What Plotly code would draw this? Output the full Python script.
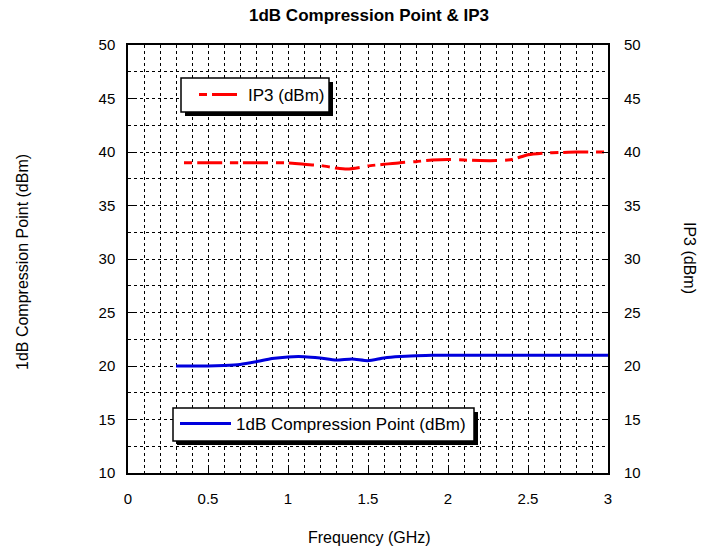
import plotly.graph_objects as go

# ---- data ----
freq_p1 = [0.3, 0.4, 0.5, 0.6, 0.7, 0.8, 0.9, 1.0, 1.1, 1.2, 1.3, 1.4, 1.5, 1.6, 1.7, 1.8,
           1.9, 2.0, 2.2, 2.4, 2.6, 2.8, 3.0]
p1db = [20.0, 20.0, 20.0, 20.05, 20.15, 20.4, 20.7, 20.85, 20.87, 20.75, 20.55, 20.65, 20.5,
        20.75, 20.88, 20.95, 21.0, 21.0, 21.0, 21.0, 21.0, 21.0, 21.0]

freq_ip3 = [0.35, 0.5, 0.6, 0.7, 0.8, 0.9, 1.0, 1.1, 1.2, 1.3, 1.37, 1.45, 1.5, 1.6, 1.7, 1.8,
            1.9, 2.0, 2.1, 2.2, 2.3, 2.4, 2.5, 2.6, 2.7, 2.8, 2.9, 3.0]
ip3 = [39.0, 39.0, 39.0, 39.0, 39.0, 39.0, 38.98, 38.85, 38.75, 38.5, 38.4, 38.55, 38.7, 38.85,
       39.0, 39.1, 39.25, 39.3, 39.25, 39.2, 39.2, 39.3, 39.75, 39.9, 39.95, 40.0, 40.0, 40.0]

x_ticks = [0, 0.5, 1, 1.5, 2, 2.5, 3]
x_labels = ["0", "0.5", "1", "1.5", "2", "2.5", "3"]
y_ticks = [10, 15, 20, 25, 30, 35, 40, 45, 50]

title_text = "1dB Compression Point & IP3"
x_title = "Frequency (GHz)"
y_title = "1dB Compression Point (dBm)"
y2_title = "IP3 (dBm)"
name_p1 = "1dB Compression Point (dBm)"
name_ip3 = "IP3 (dBm)"

# ---- layout geometry (pixels) ----
W, H = 717, 551
L, R, T, B = 128, 608, 45, 473
FONT = "Liberation Sans, Arial, sans-serif"


def px(xp):
    return (xp - L) / (R - L)


def py(yp):
    return (B - yp) / (B - T)


fig = go.Figure()
fig.add_trace(go.Scatter(
    x=freq_p1, y=p1db, name=name_p1, mode="lines",
    line=dict(color="#0000dd", width=3, shape="spline", smoothing=0.6),
    legend="legend2", yaxis="y", showlegend=True))
fig.add_trace(go.Scatter(
    x=freq_ip3, y=ip3, name=name_ip3, mode="lines",
    line=dict(color="#ff0000", width=3, shape="spline", smoothing=0.6,
              dash="8px,5px,25px,8px"),
    legend="legend", yaxis="y2", showlegend=True))

grid = dict(showgrid=True, gridcolor="black", gridwidth=1, griddash="3px,3px")
minor_x = dict(dtick=0.1, showgrid=True, gridcolor="black", gridwidth=1, griddash="3px,3px", ticks="")
minor_y = dict(dtick=2.5, showgrid=True, gridcolor="black", gridwidth=1, griddash="3px,3px", ticks="")

shapes = []
# legend boxes with shadows
for (x0, y0, x1, y1) in [(181, 78, 329, 112), (173, 408, 474, 441)]:
    shapes.append(dict(type="rect", xref="paper", yref="paper",
                       x0=px(x0 + 4), x1=px(x1 + 4), y0=py(y0 + 4), y1=py(y1 + 4),
                       fillcolor="black", line=dict(width=0), layer="above"))
    shapes.append(dict(type="rect", xref="paper", yref="paper",
                       x0=px(x0), x1=px(x1), y0=py(y0), y1=py(y1),
                       fillcolor="white", line=dict(color="black", width=1.5), layer="above"))

fig.update_layout(
    width=W, height=H,
    margin=dict(l=L, r=W - R, t=T, b=H - B),
    paper_bgcolor="white", plot_bgcolor="white",
    showlegend=True,
    font=dict(family=FONT, size=15, color="black"),
    title=dict(text="<b>" + title_text + "</b>", x=369 / W, xanchor="center", xref="container",
               y=1 - 15 / H, yanchor="middle", yref="container",
               font=dict(size=17, family=FONT)),
    xaxis=dict(range=[0, 3], tickvals=x_ticks, ticktext=x_labels, ticks="inside", ticklen=6,
               tickcolor="black", showline=True, linecolor="black", linewidth=1.5, mirror=True,
               zeroline=False, minor=minor_x, ticklabelstandoff=11, **grid),
    yaxis=dict(range=[10, 50], tickvals=y_ticks, ticks="inside", ticklen=6, tickcolor="black",
               showline=True, linecolor="black", linewidth=1.5, mirror=True, zeroline=False,
               minor=minor_y, ticklabelstandoff=8, **grid),
    yaxis2=dict(range=[10, 50], tickvals=y_ticks, overlaying="y", side="right", ticks="inside",
                ticklen=6, tickcolor="black", showgrid=False, zeroline=False, showline=False,
                ticklabelstandoff=15),
    legend=dict(x=px(194), y=py(95), xanchor="left", yanchor="middle",
                bgcolor="rgba(0,0,0,0)", borderwidth=0, font=dict(size=17, family=FONT),
                itemwidth=44),
    legend2=dict(x=px(175), y=py(424), xanchor="left", yanchor="middle",
                 bgcolor="rgba(0,0,0,0)", borderwidth=0, font=dict(size=17, family=FONT),
                 itemwidth=51),
    shapes=shapes,
    annotations=[
        dict(text=x_title, xref="paper", yref="paper", x=px(369), y=py(537), showarrow=False,
             xanchor="center", yanchor="middle", font=dict(size=16)),
        dict(text=y_title, xref="paper", yref="paper", x=px(22), y=py(262), showarrow=False,
             textangle=-90, xanchor="center", yanchor="middle", font=dict(size=16)),
        dict(text=y2_title, xref="paper", yref="paper", x=px(690), y=py(258), showarrow=False,
             textangle=90, xanchor="center", yanchor="middle", font=dict(size=16)),
    ],
)

fig.write_html("out.html", config={"displayModeBar": False},
               post_script="document.body.style.margin='0';")
